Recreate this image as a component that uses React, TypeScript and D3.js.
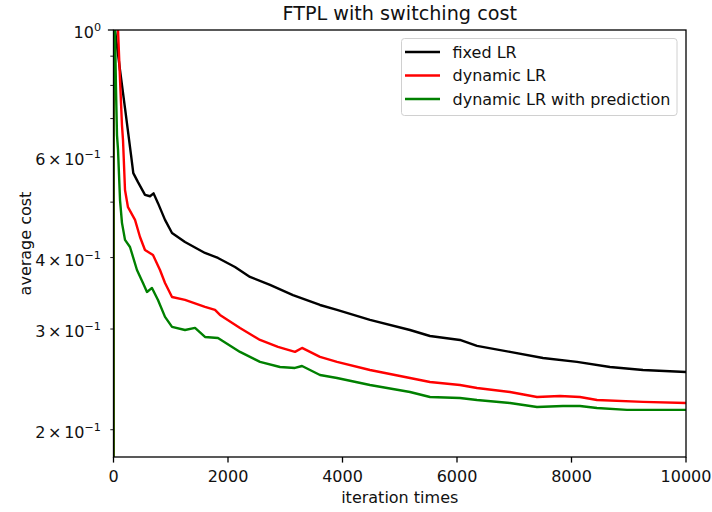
import React from "react";
import * as d3 from "d3";

// iteration, average cost
const fixedIter = [0, 1, 26, 114, 201, 306, 346, 428, 550, 638, 700, 777, 900, 1022, 1249, 1598, 1825, 2122, 2384, 2734, 3135, 3607, 3904, 4480, 5179, 5528, 6052, 6349, 6926, 7502, 8096, 8672, 9249, 10000];
const fixedCost = [0, 1.05, 1.0, 0.851, 0.73, 0.605, 0.562, 0.542, 0.515, 0.512, 0.518, 0.498, 0.4655, 0.4417, 0.426, 0.4075, 0.3994, 0.3851, 0.37, 0.3583, 0.344, 0.3305, 0.324, 0.3112, 0.2988, 0.2917, 0.2871, 0.2803, 0.2736, 0.267, 0.2628, 0.2575, 0.2544, 0.2524];

const dynIter = [0, 1, 79, 114, 148, 166, 201, 253, 376, 463, 550, 690, 812, 900, 1022, 1249, 1598, 1773, 1860, 2210, 2559, 2873, 3170, 3293, 3607, 3904, 4480, 5179, 5528, 6052, 6349, 6926, 7397, 7799, 8148, 8445, 9249, 10000];
const dynCost = [0, 1.05, 1.0, 0.818, 0.682, 0.642, 0.525, 0.49, 0.4655, 0.4346, 0.4124, 0.4042, 0.3805, 0.361, 0.3413, 0.3373, 0.328, 0.324, 0.3175, 0.3013, 0.2871, 0.2791, 0.2736, 0.278, 0.2681, 0.2628, 0.2544, 0.2463, 0.2424, 0.2395, 0.2366, 0.2328, 0.2282, 0.2291, 0.2282, 0.2254, 0.2237, 0.2227];

const predIter = [0, 1, 26, 44, 61, 79, 114, 148, 201, 288, 410, 515, 585, 672, 777, 900, 1022, 1249, 1424, 1598, 1825, 2210, 2559, 2908, 3170, 3293, 3607, 3904, 4480, 5179, 5528, 6052, 6349, 6926, 7397, 7851, 8148, 8445, 8969, 10000];
const predCost = [0, 1.05, 1.0, 0.785, 0.655, 0.617, 0.5043, 0.46, 0.4295, 0.4174, 0.3805, 0.361, 0.3483, 0.354, 0.3373, 0.315, 0.3026, 0.2988, 0.3013, 0.2906, 0.2894, 0.2736, 0.2628, 0.2575, 0.2565, 0.2585, 0.2493, 0.2463, 0.2395, 0.2328, 0.2282, 0.2273, 0.2254, 0.2227, 0.2192, 0.2201, 0.2201, 0.2183, 0.2166, 0.2166];

const seriesNames = ["fixed LR", "dynamic LR", "dynamic LR with prediction"];
const seriesColors = ["#000000", "#ff0000", "#008000"];

const xTicks = [0, 2000, 4000, 6000, 8000, 10000];
const yMajor = [1];
const yLabeledMinor = [0.2, 0.3, 0.4, 0.6];
const yMinor = [0.5, 0.7, 0.8, 0.9];

const W = 712;
const H = 512;
const left = 113.5;
const right = 686;
const top = 30;
const bottom = 457;
const font = "DejaVu Sans, sans-serif";
const fs = 16;

export default function App() {
  const x = d3.scaleLinear().domain([0, 10000]).range([left, right]);
  const y = d3.scaleLog().domain([0.1792, 1]).range([bottom, top]);

  const series = [
    { iter: fixedIter, cost: fixedCost },
    { iter: dynIter, cost: dynCost },
    { iter: predIter, cost: predCost },
  ];

  const line = d3
    .line<[number, number]>()
    .x((d) => x(d[0]))
    .y((d) => y(Math.max(d[1], 1e-3)));

  const sup = (mant: string | null, exp: string) => (
    <>
      {mant ? `${mant}\u2006\u00d7\u200610` : "10"}
      <tspan dy={-7} fontSize={11.2}>
        {exp}
      </tspan>
    </>
  );

  return (
    <svg
      width={W}
      height={H}
      style={{ position: "absolute", left: 0, top: 0, background: "#fff" }}
      fontFamily={font}
    >
      <defs>
        <clipPath id="plot">
          <rect x={left} y={top} width={right - left} height={bottom - top} />
        </clipPath>
      </defs>
      <rect width={W} height={H} fill="#fff" />

      <g clipPath="url(#plot)" fill="none" strokeWidth={2.4} strokeLinejoin="round">
        {series.map((s, i) => (
          <path
            key={i}
            d={line(s.iter.map((it, j) => [it, s.cost[j]] as [number, number])) || ""}
            stroke={seriesColors[i]}
          />
        ))}
      </g>

      <rect
        x={left}
        y={top}
        width={right - left}
        height={bottom - top}
        fill="none"
        stroke="#000"
        strokeWidth={1.3}
      />

      {/* x axis */}
      {xTicks.map((t) => (
        <g key={t}>
          <line x1={x(t)} x2={x(t)} y1={bottom} y2={bottom + 5.6} stroke="#000" strokeWidth={1.3} />
          <text x={x(t)} y={482} textAnchor="middle" fontSize={fs} fill="#111">
            {t}
          </text>
        </g>
      ))}
      <text x={(left + right) / 2} y={503} textAnchor="middle" fontSize={fs} fill="#111">
        iteration times
      </text>

      {/* y axis */}
      {yMajor.map((t) => (
        <g key={t}>
          <line x1={left - 5.6} x2={left} y1={y(t)} y2={y(t)} stroke="#000" strokeWidth={1.3} />
          <text x={101} y={y(t) + 8} textAnchor="end" fontSize={fs} fill="#111">
            {sup(null, "0")}
          </text>
        </g>
      ))}
      {yLabeledMinor.map((t) => (
        <g key={t}>
          <line x1={left - 3.2} x2={left} y1={y(t)} y2={y(t)} stroke="#000" strokeWidth={0.9} />
          <text x={101} y={y(t) + 8} textAnchor="end" fontSize={fs} fill="#111">
            {sup(String(Math.round(t * 10)), "\u22121")}
          </text>
        </g>
      ))}
      {yMinor.map((t) => (
        <line key={t} x1={left - 3.2} x2={left} y1={y(t)} y2={y(t)} stroke="#000" strokeWidth={0.9} />
      ))}
      <text
        transform={`translate(31,${(top + bottom) / 2}) rotate(-90)`}
        textAnchor="middle"
        fontSize={fs}
        fill="#111"
      >
        average cost
      </text>

      <text x={(left + right) / 2} y={20} textAnchor="middle" fontSize={19.2} fill="#111">
        FTPL with switching cost
      </text>

      {/* legend */}
      <rect x={401.5} y={38.5} width={275.5} height={77} rx={3} fill="#fff" fillOpacity={0.8} stroke="#d0d0d0" />
      {seriesNames.map((n, i) => (
        <g key={n}>
          <line x1={405} x2={440} y1={52 + i * 23.5} y2={52 + i * 23.5} stroke={seriesColors[i]} strokeWidth={2.4} />
          <text x={452.5} y={52 + i * 23.5 + 5.5} fontSize={fs} fill="#111">
            {n}
          </text>
        </g>
      ))}
    </svg>
  );
}
